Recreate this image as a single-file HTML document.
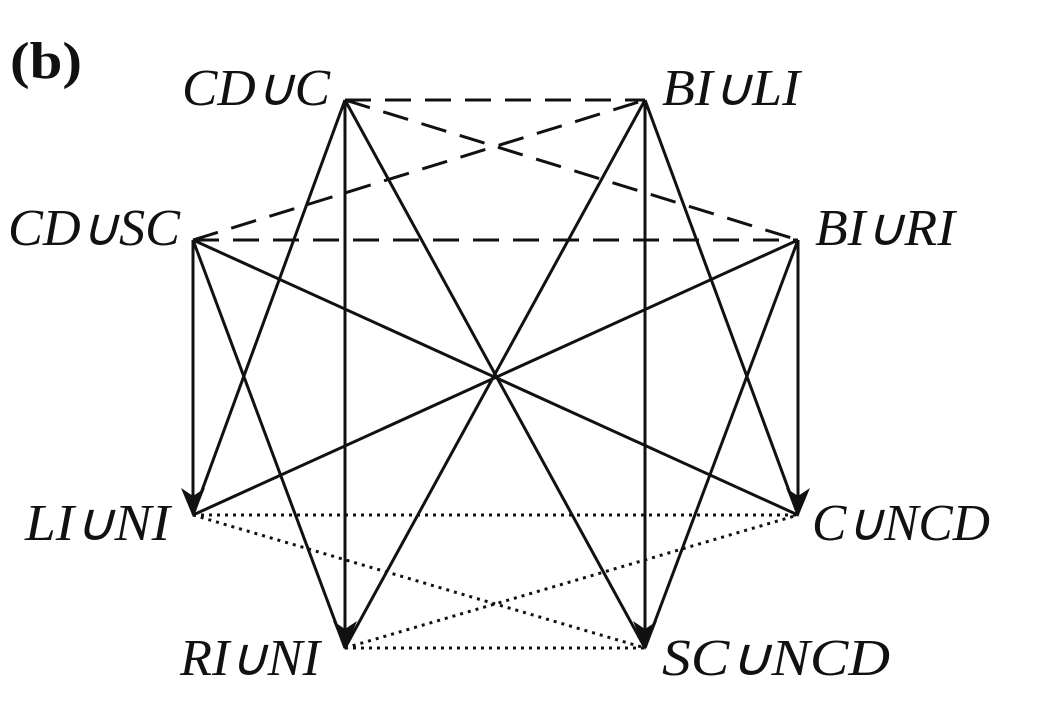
<!DOCTYPE html>
<html><head><meta charset="utf-8"><style>
html,body{margin:0;padding:0;background:#fff;width:1040px;height:720px;overflow:hidden}
text{font-family:"Liberation Serif",serif;font-style:italic;font-size:52px;fill:#111}
</style></head><body>
<svg width="1040" height="720" xmlns="http://www.w3.org/2000/svg">
<text x="10" y="78" style="font-style:normal;font-weight:bold;font-size:52px" textLength="72" lengthAdjust="spacingAndGlyphs">(b)</text>
<text x="182" y="105" textLength="148" lengthAdjust="spacingAndGlyphs">CD∪C</text>
<text x="662" y="105" textLength="138" lengthAdjust="spacingAndGlyphs">BI∪LI</text>
<text x="8" y="245" textLength="172" lengthAdjust="spacingAndGlyphs">CD∪SC</text>
<text x="815" y="245" textLength="140" lengthAdjust="spacingAndGlyphs">BI∪RI</text>
<text x="25" y="540" textLength="145" lengthAdjust="spacingAndGlyphs">LI∪NI</text>
<text x="812" y="540" textLength="178" lengthAdjust="spacingAndGlyphs">C∪NCD</text>
<text x="180" y="675" textLength="140" lengthAdjust="spacingAndGlyphs">RI∪NI</text>
<text x="662" y="675" textLength="228" lengthAdjust="spacingAndGlyphs">SC∪NCD</text>
<g stroke="#111" stroke-width="3" fill="none" stroke-dasharray="26,14">
<line x1="345" y1="100" x2="645" y2="100"/>
<line x1="193" y1="240" x2="798" y2="240"/>
<line x1="345" y1="100" x2="798" y2="240"/>
<line x1="193" y1="240" x2="645" y2="100"/>
</g>
<g stroke="#111" stroke-width="3" fill="none" stroke-dasharray="3,5">
<line x1="193" y1="515" x2="798" y2="515"/>
<line x1="345" y1="648" x2="645" y2="648"/>
<line x1="193" y1="515" x2="645" y2="648"/>
<line x1="345" y1="648" x2="798" y2="515"/>
</g>
<g stroke="#111" stroke-width="3" fill="none">
<line x1="345" y1="100" x2="193" y2="515"/>
<line x1="345" y1="100" x2="345" y2="630"/>
<line x1="345" y1="100" x2="645" y2="648"/>
<line x1="193" y1="240" x2="193" y2="497"/>
<line x1="193" y1="240" x2="345" y2="648"/>
<line x1="193" y1="240" x2="798" y2="515"/>
<line x1="645" y1="100" x2="345" y2="648"/>
<line x1="645" y1="100" x2="645" y2="630"/>
<line x1="645" y1="100" x2="798" y2="515"/>
<line x1="798" y1="240" x2="798" y2="497"/>
<line x1="798" y1="240" x2="645" y2="648"/>
<line x1="798" y1="240" x2="193" y2="515"/>
</g>
<g fill="#111">
<path d="M181,488 L193,496 L205,488 L193,517 z"/>
<path d="M786,488 L798,496 L810,488 L798,517 z"/>
<path d="M333,621 L345,629 L357,621 L345,650 z"/>
<path d="M633,621 L645,629 L657,621 L645,650 z"/>
</g>
</svg>
</body></html>
